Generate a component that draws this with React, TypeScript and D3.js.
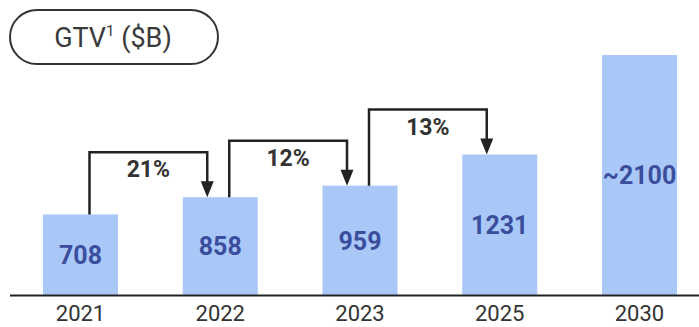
import React from "react";
import * as d3 from "d3";

const categories = ["2021", "2022", "2023", "2025", "2030"];
const values = [708, 858, 959, 1231, 2100];
const valueLabels = ["708", "858", "959", "1231", "~2100"];
const growthFrom = [0, 1, 2];
const growthLabels = ["21%", "12%", "13%"];

const W = 699;
const H = 327;
const baseY = 295.5;
const FONT = "Roboto, 'Open Sans', Arial, sans-serif";

export default function App() {
  const x = d3
    .scaleBand<string>()
    .domain(categories)
    .range([10, 710])
    .paddingInner(0.463)
    .paddingOuter(0.236);
  const y = d3.scaleLinear().domain([0, 2100]).range([baseY, 55]);
  const bw = x.bandwidth();

  return (
    <svg
      width={W}
      height={H}
      style={{ position: "absolute", left: 0, top: 0, background: "#fff" }}
      fontFamily={FONT}
    >
      {/* title pill */}
      <rect x={10} y={10} width={208} height={54} rx={27} ry={27} fill="#fff" stroke="#333" strokeWidth={2} />
      <text x={113} y={47} textAnchor="middle" fontSize={27} fill="#3a3a3a">
        GTV<tspan fontSize={15} dy={-11}>1</tspan>
        <tspan dy={11}> ($B)</tspan>
      </text>

      {/* bars */}
      {categories.map((c, i) => (
        <rect key={c} x={x(c)} y={y(values[i])} width={bw} height={baseY - y(values[i])} fill="#aac8f7" />
      ))}

      {/* value labels */}
      {categories.map((c, i) => (
        <text
          key={"v" + c}
          x={(x(c) as number) + bw / 2}
          y={(y(values[i]) + baseY) / 2 + 9}
          textAnchor="middle"
          fontSize={25}
          fontWeight={700}
          fill="#3b4e9e"
        >
          {valueLabels[i]}
        </text>
      ))}

      {/* axis line */}
      <line x1={10} x2={699} y1={baseY} y2={baseY} stroke="#222" strokeWidth={2} />

      {/* year labels */}
      {categories.map((c) => (
        <text key={"y" + c} x={(x(c) as number) + bw / 2} y={321} textAnchor="middle" fontSize={22} fill="#333">
          {c}
        </text>
      ))}

      {/* growth arrows */}
      {growthFrom.map((i, k) => {
        const a = categories[i];
        const b = categories[i + 1];
        const x1 = (x(a) as number) + bw / 2 + 9;
        const x2 = (x(b) as number) + bw / 2 - 13;
        const y1 = y(values[i]);
        const y2 = y(values[i + 1]);
        const top = Math.min(y1, y2) - 45;
        const headH = 16;
        const headW = 13;
        return (
          <g key={"g" + k}>
            <path
              d={`M${x1},${y1} V${top} H${x2} V${y2 - headH + 2}`}
              fill="none"
              stroke="#222"
              strokeWidth={2.5}
            />
            <path
              d={`M${x2 - headW / 2},${y2 - headH} L${x2 + headW / 2},${y2 - headH} L${x2},${y2} Z`}
              fill="#222"
            />
            <text x={(x1 + x2) / 2} y={top + 25} textAnchor="middle" fontSize={23} fontWeight={700} fill="#333">
              {growthLabels[k]}
            </text>
          </g>
        );
      })}
    </svg>
  );
}
